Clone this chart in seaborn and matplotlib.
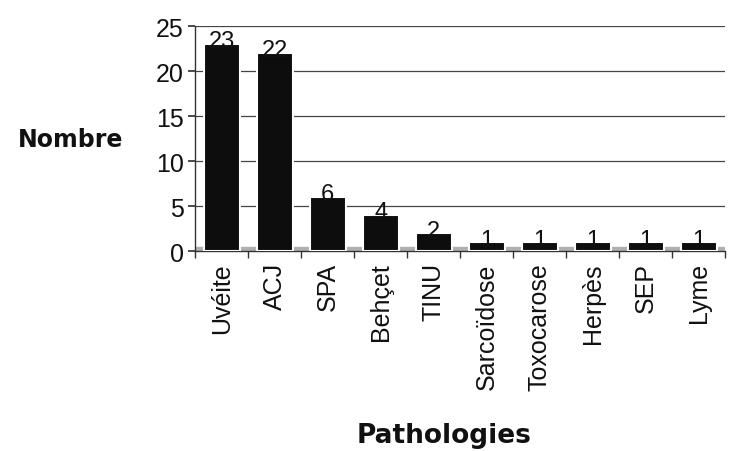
import matplotlib
matplotlib.use("Agg")
import matplotlib.pyplot as plt
import seaborn as sns
import pandas as pd
import numpy as np

categories = ["Uvéite", "ACJ", "SPA", "Behçet", "TINU", "Sarcoïdose",
              "Toxocarose", "Herpès", "SEP", "Lyme"]
values = [23, 22, 6, 4, 2, 1, 1, 1, 1, 1]
y_ticks = [0, 5, 10, 15, 20, 25]

df = pd.DataFrame({"Pathologie": categories, "Nombre": values})

sns.set_theme(style="white")
plt.rcParams['font.family'] = ['Liberation Sans', 'DejaVu Sans']

fig = plt.figure(figsize=(7.46, 4.52), dpi=100)
ax = fig.add_axes([0.262, 0.442, 0.71, 0.498])

ax.axhspan(0, 0.5, color="#b0b0b0", zorder=1)
ax = sns.barplot(data=df, x="Pathologie", y="Nombre", color="#0d0d0d",
                 edgecolor="#ffffff", linewidth=1.5, width=0.68, ax=ax,
                 saturation=1, zorder=3)
ax.set_ylim(0, 25)
ax.set_xlim(-0.5, len(categories) - 0.5)
ax.set_yticks(y_ticks)
ax.yaxis.grid(True, color="#444444", linewidth=0.9)
ax.set_axisbelow(True)
for s in ["top", "right"]:
    ax.spines[s].set_visible(False)
for s in ["left", "bottom"]:
    ax.spines[s].set_color("#333333")
    ax.spines[s].set_linewidth(1)

for i, v in enumerate(values):
    ax.text(i, v + 0.3, str(v), ha="center", va="center", fontsize=17,
            color="#111111", zorder=5)

ax.set_xticks(np.arange(-0.5, len(categories), 1), minor=True)
ax.tick_params(axis="x", which="minor", bottom=True, length=5, color="#333333")
ax.tick_params(axis="y", labelsize=18, left=True, length=5, color="#333333",
               labelcolor="#111111")
ax.tick_params(axis="x", which="major", labelsize=18, bottom=False, length=0,
               labelcolor="#111111", labelrotation=90, pad=8)
ax.set_xlabel("Pathologies", fontsize=19, fontweight="bold", labelpad=24,
              color="#111111", family=["DejaVu Sans"])
ax.xaxis.set_label_coords(0.47, -0.76)
ax.set_ylabel("")
fig.text(0.094, 0.69, "Nombre", fontsize=17, fontweight="bold", ha="center",
         va="center", color="#111111", family=["DejaVu Sans"])

fig.savefig("out.png", dpi=100)
